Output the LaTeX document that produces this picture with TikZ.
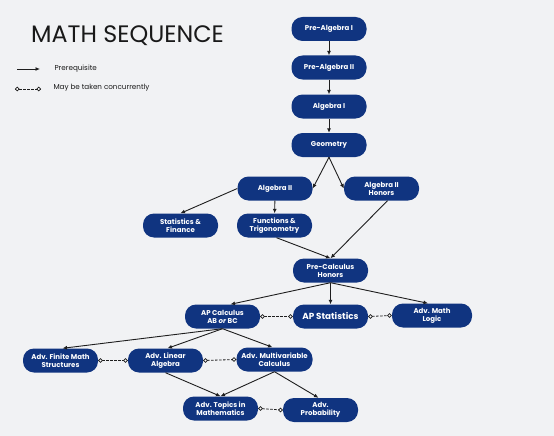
\documentclass[tikz,border=0pt]{standalone}
\usepackage{fontspec}
\setmainfont{Poppins}
\usetikzlibrary{arrows.meta}
\definecolor{navy}{RGB}{16,52,128}
\definecolor{bgc}{RGB}{241,242,244}
\definecolor{lnc}{RGB}{30,30,30}
\definecolor{ttl}{RGB}{25,25,25}
\begin{document}
\begin{tikzpicture}[x=1pt,y=-1pt,
 course/.style={draw=none,fill=navy,text=white,rounded corners=11pt,minimum width=75pt,minimum height=24pt,inner sep=1pt,align=center,font=\bfseries\fontsize{7}{8}\selectfont},
 pre/.style={draw=lnc,line width=0.9pt,-{Latex[length=4.5pt,width=4pt]}},
 conc/.style={draw=lnc,line width=0.8pt,dash pattern=on 2.5pt off 1.5pt},
 cdot/.style={circle,draw=lnc,fill=white,solid,line width=0.7pt,inner sep=0pt,minimum size=3.8pt},
 legtext/.style={anchor=west,text=ttl,font=\fontsize{7.2}{8}\selectfont}]
\fill[bgc] (0,0) rectangle (554,436);
\useasboundingbox (0,0) rectangle (554,436);
% title and legend
\node[anchor=west,text=ttl,font=\fontsize{23.8}{27}\selectfont,inner sep=0pt] (title) at (31,36) {MATH SEQUENCE};
\coordinate (l1a) at (17,69); \coordinate (l1b) at (40,69);
\coordinate (l2a) at (15,89); \coordinate (l2b) at (41,89);
\draw[pre] (l1a) -- (l1b);
\draw[conc] (l2a) -- node[cdot,at start,anchor=west]{} node[cdot,at end,anchor=east]{} (l2b);
\node[legtext] (leg1) at (51,69) {Prerequisite};
\node[legtext] (leg2) at (50,88) {May be taken concurrently};
% courses
\node[course] (pa1) at (329,29) {Pre-Algebra I};
\node[course] (pa2) at (329,67.5) {Pre-Algebra II};
\node[course] (a1) at (329,106.5) {Algebra I};
\node[course] (geo) at (329,145) {Geometry};
\node[course] (a2) at (275,188.5) {Algebra II};
\node[course] (a2h) at (381.5,188.5) {Algebra II\\Honors};
\node[course] (sf) at (180.5,225.5) {Statistics \&\\Finance};
\node[course] (ft) at (274.5,225.5) {Functions \&\\Trigonometry};
\node[course] (pc) at (330.5,270.5) {Pre-Calculus\\Honors};
\node[course] (apc) at (222.5,316.5) {AP Calculus\\AB \textit{or} BC};
\node[course,font=\bfseries\fontsize{8.8}{10}\selectfont] (aps) at (330.5,316.5) {AP Statistics};
\node[course,minimum width=80pt] (aml) at (432,315.5) {Adv. Math\\Logic};
\node[course] (afm) at (60.5,360.5) {Adv. Finite Math\\Structures};
\node[course] (ala) at (165.5,360.5) {Adv. Linear\\Algebra};
\node[course,minimum width=76pt] (amc) at (274.5,359.5) {Adv. Multivariable\\Calculus};
\node[course] (atm) at (220.5,408.5) {Adv. Topics in\\Mathematics};
\node[course] (apr) at (320.5,410) {Adv.\\Probability};
% prerequisites
\draw[pre] (pa1) -- (pa2);
\draw[pre] (pa2) -- (a1);
\draw[pre] (a1) -- (geo);
\draw[pre] (geo.south) -- (a2.east);
\draw[pre] (geo.south) -- (a2h.west);
\draw[pre] (a2.west) -- (sf.north);
\draw[pre] (a2) -- (ft);
\draw[pre] ([xshift=2pt]ft.south) -- (pc.north);
\draw[pre] ([xshift=6pt]a2h.south) -- (pc.north);
\draw[pre] (pc.south) -- ([xshift=8pt]apc.north);
\draw[pre] (pc.south) -- (aps.north);
\draw[pre] (pc.south) -- ([xshift=-4pt]aml.north);
\draw[pre] (apc.south) -- ([xshift=2pt]afm.north);
\draw[pre] (apc.south) -- ([xshift=2pt]ala.north);
\draw[pre] (apc.south) -- ([xshift=-2pt]amc.north);
\draw[pre] (ala.south) -- (atm.north);
\draw[pre] (amc.south) -- (atm.north);
\draw[pre] (amc.south) -- ([xshift=-2pt]apr.north);
% concurrent
\draw[conc] (apc.east) -- node[cdot,at start,anchor=west]{} node[cdot,at end,anchor=east]{} (aps.west);
\draw[conc] (aps.east) -- node[cdot,at start,anchor=west]{} node[cdot,at end,anchor=east]{} (aml.west);
\draw[conc] (afm.east) -- node[cdot,at start,anchor=west]{} node[cdot,at end,anchor=east]{} (ala.west);
\draw[conc] (ala.east) -- node[cdot,at start,anchor=west]{} node[cdot,at end,anchor=east]{} (amc.west);
\draw[conc] (atm.east) -- node[cdot,at start,anchor=west]{} node[cdot,at end,anchor=east]{} (apr.west);
\end{tikzpicture}
\end{document}
